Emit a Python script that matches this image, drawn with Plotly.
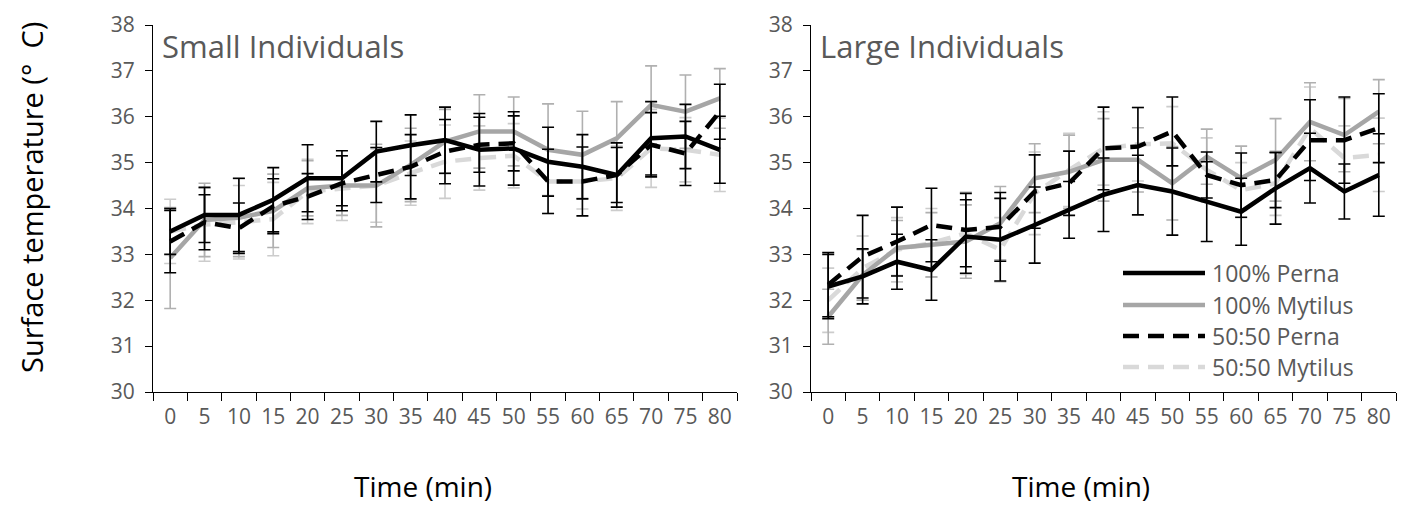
import plotly.graph_objects as go

times = ["0", "5", "10", "15", "20", "25", "30", "35", "40", "45", "50", "55", "60", "65", "70", "75", "80"]
y_ticks = [30, 31, 32, 33, 34, 35, 36, 37, 38]
series_names = ["100% Perna", "100% Mytilus", "50:50 Perna", "50:50 Mytilus"]
panel_titles = ["Small Individuals", "Large Individuals"]

# Small individuals
perna_s = [33.50, 33.86, 33.86, 34.19, 34.66, 34.66, 35.24, 35.38, 35.49, 35.28, 35.31, 35.02, 34.91, 34.73, 35.53, 35.57, 35.28]
myt_s = [32.92, 33.75, 33.80, 33.95, 34.44, 34.50, 34.50, 34.95, 35.46, 35.68, 35.68, 35.28, 35.17, 35.53, 36.26, 36.11, 36.40]
p50_s = [33.28, 33.70, 33.57, 34.05, 34.26, 34.55, 34.73, 34.91, 35.24, 35.39, 35.42, 34.59, 34.59, 34.73, 35.39, 35.20, 36.11]
m50_s = [33.50, 33.65, 33.70, 33.77, 34.37, 34.44, 34.50, 34.77, 35.02, 35.10, 35.15, 34.59, 34.59, 34.66, 35.31, 35.28, 35.17]
perna_s_err = [0.50, 0.60, 0.80, 0.70, 0.73, 0.60, 0.66, 0.66, 0.72, 0.79, 0.80, 0.75, 0.70, 0.70, 0.80, 0.70, 0.73]
myt_s_err = [1.10, 0.80, 0.85, 0.80, 0.60, 0.65, 0.90, 0.80, 0.70, 0.80, 0.75, 1.00, 0.95, 0.80, 0.85, 0.80, 0.65]
p50_s_err = [0.68, 0.60, 0.55, 0.60, 0.50, 0.60, 0.60, 0.70, 0.70, 0.60, 0.60, 0.70, 0.75, 0.60, 0.70, 0.70, 0.60]
m50_s_err = [0.70, 0.80, 0.80, 0.80, 0.70, 0.70, 0.80, 0.70, 0.80, 0.70, 0.70, 0.70, 0.60, 0.70, 0.85, 0.70, 0.80]

# Large individuals
perna_l = [32.30, 32.52, 32.84, 32.66, 33.39, 33.32, 33.64, 33.97, 34.30, 34.51, 34.37, 34.15, 33.93, 34.44, 34.88, 34.37, 34.73]
myt_l = [31.64, 32.55, 33.14, 33.21, 33.28, 33.68, 34.66, 34.80, 35.06, 35.06, 34.55, 35.13, 34.66, 35.06, 35.89, 35.60, 36.11]
p50_l = [32.34, 32.95, 33.28, 33.64, 33.53, 33.60, 34.37, 34.55, 35.31, 35.35, 35.68, 34.73, 34.51, 34.62, 35.49, 35.49, 35.75]
m50_l = [32.00, 32.70, 33.10, 33.25, 33.46, 33.10, 34.33, 34.84, 35.31, 35.40, 35.42, 34.84, 34.40, 34.55, 35.75, 35.10, 35.17]
perna_l_err = [0.70, 0.60, 0.60, 0.66, 0.80, 0.90, 0.83, 0.62, 0.80, 0.65, 0.95, 0.87, 0.73, 0.78, 0.76, 0.60, 0.90]
myt_l_err = [0.60, 0.55, 0.60, 0.70, 0.80, 0.80, 0.75, 0.80, 0.90, 0.70, 0.80, 0.60, 0.70, 0.90, 0.85, 0.80, 0.70]
p50_l_err = [0.70, 0.90, 0.75, 0.80, 0.80, 0.75, 0.80, 0.70, 0.90, 0.85, 0.75, 0.50, 0.70, 0.60, 0.88, 0.94, 0.75]
m50_l_err = [0.70, 0.70, 0.70, 0.75, 0.90, 0.70, 0.90, 0.80, 0.80, 0.80, 0.80, 0.70, 0.60, 0.70, 0.90, 0.70, 0.80]

FONT = "Open Sans"
TICK_COLOR = "#595959"
styles = {
    "100% Perna": dict(color="#000000", dash="solid", err="#000000"),
    "100% Mytilus": dict(color="#a6a6a6", dash="solid", err="#b0b0b0"),
    "50:50 Perna": dict(color="#000000", dash="16px,9px", err="#000000"),
    "50:50 Mytilus": dict(color="#d9d9d9", dash="16px,9px", err="#cccccc"),
}

panels = [
    (dict(zip(series_names, [perna_s, myt_s, p50_s, m50_s])),
     dict(zip(series_names, [perna_s_err, myt_s_err, p50_s_err, m50_s_err]))),
    (dict(zip(series_names, [perna_l, myt_l, p50_l, m50_l])),
     dict(zip(series_names, [perna_l_err, myt_l_err, p50_l_err, m50_l_err]))),
]

W, H = 1406, 508
fig = go.Figure()
draw_order = ["50:50 Mytilus", "100% Mytilus", "50:50 Perna", "100% Perna"]
for pi, (vals, errs) in enumerate(panels):
    xa = "x" if pi == 0 else "x2"
    ya = "y" if pi == 0 else "y2"
    for name in draw_order:
        st = styles[name]
        fig.add_trace(go.Scatter(
            x=times, y=vals[name], mode="lines", name=name,
            xaxis=xa, yaxis=ya, showlegend=False,
            line=dict(color=st["color"], width=4.5, dash=st["dash"]),
            error_y=dict(type="data", array=errs[name], visible=True,
                         color=st["err"], thickness=1.6, width=6),
        ))

x_domains = [(153 / W, 737 / W), (811 / W, 1396 / W)]
y_domain = ((H - 392) / H, (H - 25) / H)

axis_common = dict(
    showline=True, linecolor="#000000", linewidth=1.2, ticks="outside",
    tickcolor="#000000", showgrid=False, zeroline=False,
    tickfont=dict(family=FONT, size=21, color=TICK_COLOR),
)
for i, suffix in enumerate(["", "2"]):
    fig.layout["xaxis" + suffix] = dict(
        axis_common, type="category", categoryorder="array", categoryarray=times,
        domain=x_domains[i], anchor="y" + suffix, tickson="boundaries", ticklen=8,
        range=[-0.5, len(times) - 0.5], ticklabelstandoff=6,
    )
    fig.layout["yaxis" + suffix] = dict(
        axis_common, domain=y_domain, anchor="x" + suffix, range=[30, 38],
        tickvals=y_ticks, ticklen=7, ticklabelstandoff=6,
    )

annotations = []
for i, t in enumerate(panel_titles):
    annotations.append(dict(
        text=t, xref="paper", yref="paper", x=(x_domains[i][0] * W + 7) / W, y=(H - 46) / H,
        xanchor="left", yanchor="middle", showarrow=False,
        font=dict(family=FONT, size=31, color=TICK_COLOR)))
    annotations.append(dict(
        text="Time (min)", xref="paper", yref="paper",
        x=([423, 1081][i]) / W, y=1 / H, xanchor="center", yanchor="bottom",
        showarrow=False, font=dict(family=FONT, size=28, color="#000000")))
annotations.append(dict(
    text="Surface temperature (°  C)", xref="paper", yref="paper",
    x=31 / W, y=(H - 198) / H, xanchor="center", yanchor="middle", textangle=-90,
    showarrow=False, font=dict(family=FONT, size=29, color="#000000")))

# Legend (drawn as shapes + labels)
shapes = []
legend_rows = [273, 305, 336, 367]
for name, yy in zip(series_names, legend_rows):
    st = styles[name]
    shapes.append(dict(type="line", xref="paper", yref="paper",
                       x0=1123 / W, x1=1205 / W, y0=(H - yy) / H, y1=(H - yy) / H,
                       line=dict(color=st["color"], width=4.5, dash=st["dash"])))
    annotations.append(dict(
        text=name, xref="paper", yref="paper", x=1210 / W, y=(H - yy) / H,
        xanchor="left", yanchor="middle", showarrow=False,
        font=dict(family=FONT, size=23, color=TICK_COLOR)))

fig.update_layout(
    width=W, height=H, margin=dict(l=0, r=0, t=0, b=0, autoexpand=False),
    plot_bgcolor="white", paper_bgcolor="white", showlegend=False,
    annotations=annotations, shapes=shapes,
)
fig.write_html("out.html", config={"displayModeBar": False},
               post_script="document.body.style.margin='0';document.body.style.overflow='hidden';")
